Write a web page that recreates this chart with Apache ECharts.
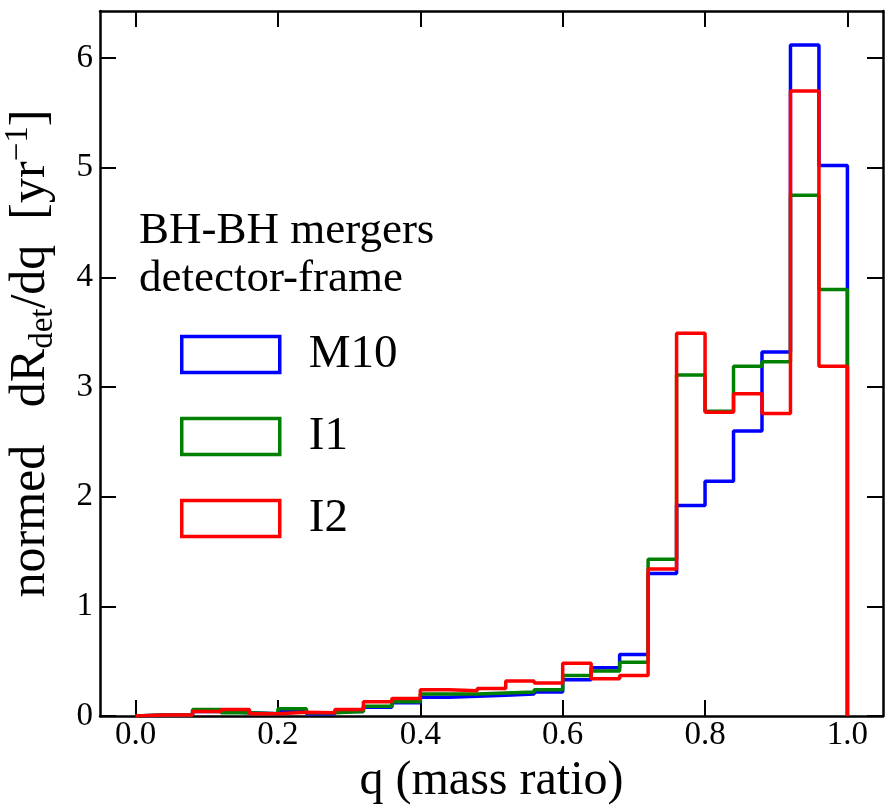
<!DOCTYPE html>
<html>
<head>
<meta charset="utf-8">
<script src="https://cdn.jsdelivr.net/npm/echarts@6/dist/echarts.min.js"></script>
<style>
  html, body { margin: 0; padding: 0; background: #fff; }
  #chart { width: 893px; height: 810px; }
</style>
</head>
<body>
<div id="chart"></div>
<script>
// bin lower edges (width 0.04)
const binEdges = [0.00, 0.04, 0.08, 0.12, 0.16, 0.20, 0.24, 0.28, 0.32, 0.36, 0.40, 0.44, 0.48,
                  0.52, 0.56, 0.60, 0.64, 0.68, 0.72, 0.76, 0.80, 0.84, 0.88, 0.92, 0.96];
const binEnd = 1.0;

const m10 = [0.01, 0.01, 0.04, 0.03, 0.02, 0.04, 0.02, 0.04, 0.08, 0.12, 0.17, 0.18, 0.19,
             0.20, 0.22, 0.33, 0.44, 0.56, 1.30, 1.92, 2.14, 2.60, 3.32, 6.12, 5.02];
const i1  = [0.01, 0.01, 0.06, 0.03, 0.02, 0.065, 0.03, 0.04, 0.09, 0.13, 0.20, 0.20, 0.21,
             0.22, 0.24, 0.37, 0.41, 0.49, 1.43, 3.11, 2.78, 3.19, 3.23, 4.75, 3.89];
const i2  = [0.01, 0.01, 0.04, 0.06, 0.02, 0.035, 0.03, 0.06, 0.13, 0.16, 0.24, 0.23, 0.25,
             0.32, 0.30, 0.48, 0.34, 0.37, 1.34, 3.49, 2.77, 2.94, 2.76, 5.70, 3.19];

const xTicks = [0.0, 0.2, 0.4, 0.6, 0.8, 1.0];
const yTicks = [0, 1, 2, 3, 4, 5, 6];

const names = ['M10', 'I1', 'I2'];
const colors = ['#0000ff', '#008000', '#ff0000'];

// outline like matplotlib histtype='step'
function stepPoints(vals) {
    const pts = [[binEdges[0], 0]];
    vals.forEach((v, k) => pts.push([binEdges[k], v]));
    pts.push([binEnd, 0]);
    return pts;
}

const serif = 'Liberation Serif';
const tickStyle = { show: true, inside: true, length: 16, lineStyle: { color: '#000', width: 2 } };
const frame = { show: true, onZero: false, lineStyle: { color: '#000', width: 2.5 } };

const chart = echarts.init(document.getElementById('chart'));
chart.setOption({
    animation: false,
    backgroundColor: '#fff',
    grid: { left: 100, right: 10, top: 11, bottom: 94, containLabel: false, outerBoundsMode: 'none' },
    title: {
        text: 'BH-BH mergers\ndetector-frame',
        left: 134, top: 202,
        textStyle: { fontFamily: serif, fontSize: 45, fontWeight: 'normal', color: '#000', lineHeight: 48 }
    },
    legend: {
        orient: 'vertical',
        left: 175, top: 326,
        itemWidth: 98, itemHeight: 36, itemGap: 35,
        icon: 'rect',
        textStyle: { fontFamily: serif, fontSize: 47, color: '#000', padding: [0, 0, 0, 24] },
        data: names.map((n, k) => ({
            name: n,
            itemStyle: { color: '#fff', borderColor: colors[k], borderWidth: 3.5 }
        }))
    },
    xAxis: [{
        type: 'value', min: -0.05, max: 1.05,
        name: 'q (mass ratio)', nameLocation: 'middle', nameGap: 38,
        nameTextStyle: { fontFamily: serif, fontSize: 48, color: '#000' },
        axisLine: frame,
        axisTick: Object.assign({ customValues: xTicks }, tickStyle),
        axisLabel: { customValues: xTicks, fontFamily: serif, fontSize: 33, color: '#000', margin: 3,
                     formatter: v => v.toFixed(1) },
        splitLine: { show: false }
    }, {
        type: 'value', min: -0.05, max: 1.05, position: 'top',
        axisLine: frame,
        axisTick: Object.assign({ customValues: xTicks }, tickStyle),
        axisLabel: { show: false }, splitLine: { show: false }
    }],
    yAxis: [{
        type: 'value', min: 0, max: 6.43,
        name: 'normed   dR{sub|det}/dq  [yr{sup|−1}]', nameLocation: 'middle', nameGap: 40,
        nameTextStyle: {
            fontFamily: serif, fontSize: 50, color: '#000', lineHeight: 58, verticalAlign: 'bottom',
            padding: [0, 0, 0, 20],
            rich: {
                sub: { fontFamily: serif, fontSize: 33, color: '#000', verticalAlign: 'bottom', lineHeight: 42 },
                sup: { fontFamily: serif, fontSize: 33, color: '#000', verticalAlign: 'top', lineHeight: 42 }
            }
        },
        axisLine: frame,
        axisTick: Object.assign({ customValues: yTicks }, tickStyle),
        axisLabel: { customValues: yTicks, fontFamily: serif, fontSize: 33, color: '#000', margin: 7 },
        splitLine: { show: false }
    }, {
        type: 'value', min: 0, max: 6.43, position: 'right',
        axisLine: frame,
        axisTick: Object.assign({ customValues: yTicks }, tickStyle),
        axisLabel: { show: false }, splitLine: { show: false }
    }],
    series: [m10, i1, i2].map((vals, k) => ({
        name: names[k],
        type: 'line',
        step: 'end',
        showSymbol: false,
        data: stepPoints(vals),
        color: colors[k],
        lineStyle: { color: colors[k], width: 3.5 },
        z: 2 + k
    }))
});
</script>
</body>
</html>
